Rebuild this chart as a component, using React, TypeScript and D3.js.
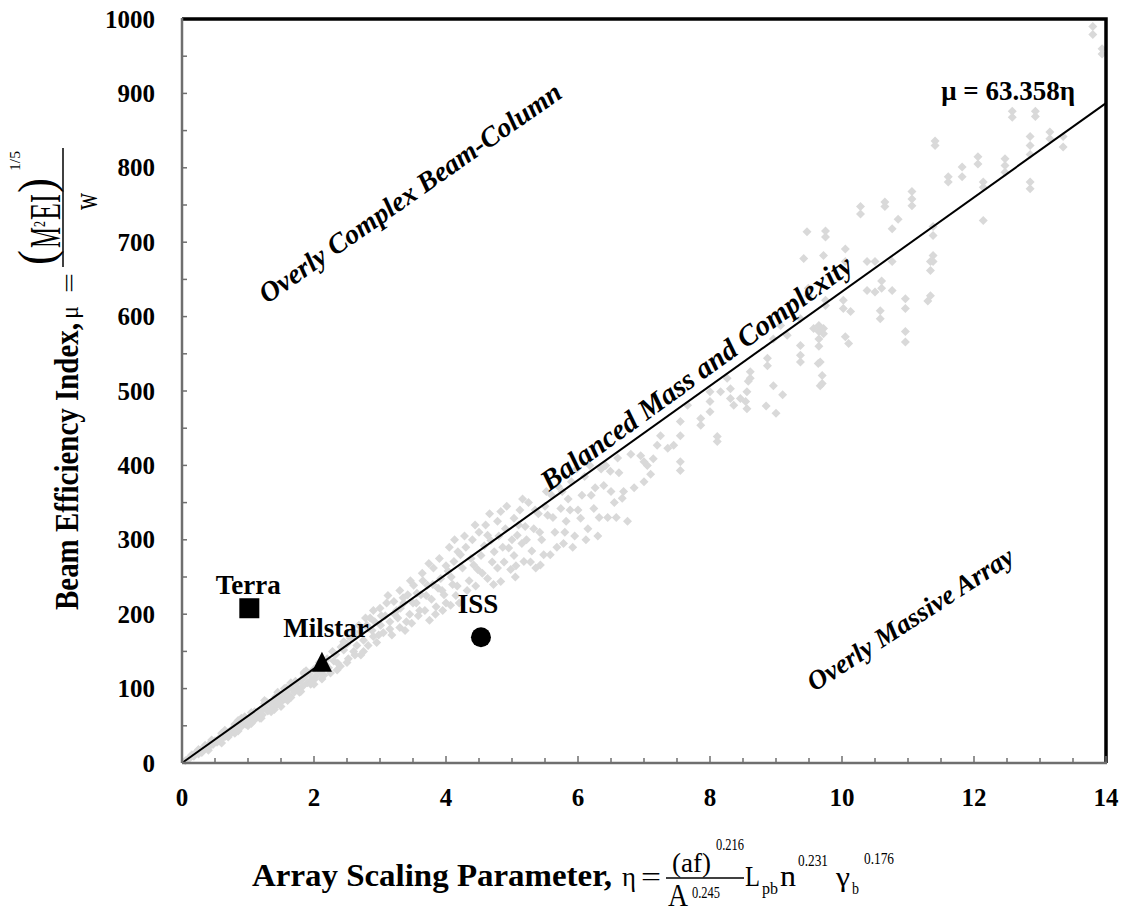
import React, { useEffect, useRef } from 'react';
import * as d3 from 'd3';

// axis ticks
const xTickValues = [0, 2, 4, 6, 8, 10, 12, 14];
const yTickValues = [0, 100, 200, 300, 400, 500, 600, 700, 800, 900, 1000];

// fitted line mu = 63.358 eta
const fitSlope = 63.358;
const fitEtaRange = [0, 14];

// reference spacecraft
const spacecraftNames = ['Terra', 'Milstar', 'ISS'];
const spacecraftEta = [1.02, 2.12, 4.53];
const spacecraftMu = [208, 136, 169];

// region annotations (centre in data units)
const regionLabels = ['Overly Complex Beam-Column', 'Balanced Mass and Complexity', 'Overly Massive Array'];
const regionEta = [3.45, 7.79, 11.03];
const regionMu = [767, 525, 194];

// design study points [eta, mu]
const designPoints: [number, number][] = [
    [0.05, 3], [0.1, 5], [0.12, 8], [0.15, 11], [0.18, 9], [0.2, 13], [0.25, 12], [0.25, 18], [0.28, 17], [0.3, 14],
    [0.33, 18], [0.35, 24], [0.36, 22], [0.4, 21], [0.4, 17], [0.42, 26], [0.45, 29], [0.45, 31], [0.47, 25], [0.5, 30],
    [0.53, 28], [0.55, 30], [0.56, 33], [0.6, 32], [0.6, 40], [0.6, 27], [0.62, 37], [0.65, 42], [0.65, 44], [0.66, 36],
    [0.7, 41], [0.7, 35], [0.72, 38], [0.75, 45], [0.78, 42], [0.8, 52], [0.8, 40], [0.82, 48], [0.85, 46], [0.85, 43],
    [0.85, 57], [0.88, 53], [0.9, 49], [0.9, 60], [0.94, 56], [0.95, 62], [0.97, 52], [1.0, 59], [1.0, 50], [1.02, 55],
    [1.05, 53], [1.05, 68], [1.06, 63], [1.1, 58], [1.1, 69], [1.12, 66], [1.15, 62], [1.18, 60], [1.2, 71], [1.2, 60],
    [1.22, 65], [1.25, 80], [1.25, 84], [1.26, 74], [1.28, 82], [1.3, 70], [1.33, 80], [1.35, 69], [1.36, 73], [1.4, 84],
    [1.4, 72], [1.42, 89], [1.43, 78], [1.45, 95], [1.47, 88], [1.5, 82], [1.5, 76], [1.53, 93], [1.55, 100], [1.56, 86],
    [1.58, 101], [1.6, 98], [1.6, 84], [1.62, 90], [1.65, 88], [1.65, 108], [1.66, 101], [1.7, 95], [1.72, 110], [1.73, 107],
    [1.76, 99], [1.78, 95], [1.8, 111], [1.8, 96], [1.83, 103], [1.85, 120], [1.85, 122], [1.86, 116], [1.88, 124], [1.9, 108],
    [1.93, 120], [1.95, 106], [1.96, 112], [2.0, 126], [2.0, 112], [2.0, 106], [2.03, 117], [2.05, 130], [2.08, 135], [2.1, 122],
    [2.12, 113], [2.15, 118], [2.18, 132], [2.2, 140], [2.22, 128], [2.25, 121], [2.28, 150], [2.3, 137], [2.33, 146], [2.35, 125],
    [2.36, 134], [2.4, 130], [2.41, 156], [2.45, 152], [2.45, 163], [2.5, 160], [2.5, 135], [2.52, 140], [2.55, 168], [2.58, 178],
    [2.6, 172], [2.6, 150], [2.62, 145], [2.65, 158], [2.68, 185], [2.7, 176], [2.71, 145], [2.75, 165], [2.75, 150], [2.78, 195],
    [2.8, 185], [2.82, 158], [2.82, 181], [2.85, 195], [2.88, 178], [2.9, 170], [2.9, 205], [2.92, 190], [2.95, 162], [2.98, 172],
    [3.0, 208], [3.01, 185], [3.02, 198], [3.05, 175], [3.08, 198], [3.1, 215], [3.12, 225], [3.15, 190], [3.15, 180], [3.18, 172],
    [3.21, 217], [3.22, 200], [3.25, 205], [3.27, 195], [3.3, 182], [3.3, 232], [3.31, 208], [3.35, 222], [3.36, 215], [3.38, 178],
    [3.4, 190], [3.42, 226], [3.45, 200], [3.46, 245], [3.48, 188], [3.5, 215], [3.51, 239], [3.55, 215], [3.56, 228], [3.58, 198],
    [3.6, 205], [3.62, 226], [3.64, 255], [3.65, 245], [3.68, 205], [3.7, 225], [3.72, 239], [3.74, 268], [3.75, 192], [3.78, 220],
    [3.8, 240], [3.81, 262], [3.84, 200], [3.85, 210], [3.88, 235], [3.9, 275], [3.92, 248], [3.94, 232], [3.95, 205], [3.97, 226],
    [4.0, 265], [4.0, 215], [4.03, 258], [4.05, 290], [4.07, 212], [4.08, 250], [4.1, 240], [4.12, 271], [4.13, 300], [4.15, 225],
    [4.17, 238], [4.18, 284], [4.2, 215], [4.22, 280], [4.25, 262], [4.28, 305], [4.3, 290], [4.32, 232], [4.35, 245], [4.38, 275],
    [4.4, 300], [4.42, 266], [4.44, 320], [4.45, 238], [4.48, 260], [4.5, 310], [4.53, 279], [4.55, 255], [4.58, 292], [4.6, 320],
    [4.63, 248], [4.63, 306], [4.66, 335], [4.68, 299], [4.7, 270], [4.72, 240], [4.73, 284], [4.78, 325], [4.78, 262], [4.8, 305],
    [4.83, 338], [4.83, 244], [4.86, 290], [4.88, 270], [4.9, 315], [4.92, 345], [4.95, 289], [4.98, 260], [5.0, 300], [5.03, 329],
    [5.03, 279], [5.05, 250], [5.06, 265], [5.08, 306], [5.1, 320], [5.12, 340], [5.15, 295], [5.16, 355], [5.18, 271], [5.2, 318],
    [5.22, 300], [5.25, 350], [5.28, 270], [5.3, 285], [5.33, 315], [5.35, 340], [5.36, 262], [5.4, 335], [5.42, 310], [5.43, 266],
    [5.45, 300], [5.48, 280], [5.5, 345], [5.52, 365], [5.54, 333], [5.58, 280], [5.6, 360], [5.62, 330], [5.65, 310], [5.68, 290],
    [5.7, 372], [5.74, 342], [5.76, 365], [5.78, 295], [5.8, 310], [5.82, 325], [5.85, 355], [5.88, 340], [5.9, 378], [5.92, 290],
    [5.95, 305], [5.98, 395], [6.0, 340], [6.04, 329], [6.06, 360], [6.1, 385], [6.12, 300], [6.15, 315], [6.18, 400], [6.2, 360],
    [6.24, 342], [6.26, 370], [6.3, 305], [6.32, 330], [6.35, 395], [6.39, 373], [6.42, 400], [6.45, 330], [6.49, 392], [6.5, 365],
    [6.55, 350], [6.58, 330], [6.6, 410], [6.62, 390], [6.67, 356], [6.69, 365], [6.75, 325], [6.8, 415], [6.85, 370], [6.95, 413],
    [7.0, 405], [7.0, 378], [7.05, 400], [7.1, 388], [7.14, 409], [7.2, 427], [7.25, 440], [7.36, 423], [7.45, 427], [7.55, 459],
    [7.55, 440], [7.55, 405], [7.55, 393], [7.66, 481], [7.86, 463], [7.86, 454], [8.0, 499], [8.0, 486], [8.0, 472], [8.11, 439],
    [8.11, 432], [8.16, 499], [8.26, 517], [8.31, 503], [8.31, 490], [8.36, 481], [8.46, 490], [8.54, 486], [8.56, 499], [8.56, 476],
    [8.58, 513], [8.61, 526], [8.61, 517], [8.85, 480], [8.87, 544], [8.87, 534], [8.96, 507], [8.96, 570], [9.0, 470], [9.07, 588],
    [9.1, 495], [9.17, 575], [9.37, 561], [9.37, 548], [9.37, 539], [9.37, 597], [9.42, 678], [9.47, 714], [9.49, 638], [9.49, 628],
    [9.57, 584], [9.64, 537], [9.65, 588], [9.65, 580], [9.65, 570], [9.65, 560], [9.67, 539], [9.67, 507], [9.7, 521], [9.7, 510],
    [9.72, 682], [9.72, 584], [9.72, 577], [9.75, 715], [9.75, 707], [9.75, 622], [9.75, 615], [10.02, 622], [10.02, 611], [10.05, 691],
    [10.05, 674], [10.05, 573], [10.1, 564], [10.13, 607], [10.28, 748], [10.28, 738], [10.38, 674], [10.38, 635], [10.5, 674], [10.5, 633],
    [10.58, 608], [10.58, 597], [10.6, 648], [10.6, 638], [10.65, 754], [10.65, 748], [10.76, 718], [10.76, 674], [10.76, 635], [10.85, 731],
    [10.96, 624], [10.96, 611], [10.96, 580], [10.96, 566], [11.06, 768], [11.06, 758], [11.06, 749], [11.3, 621], [11.34, 674], [11.34, 662],
    [11.34, 628], [11.38, 721], [11.38, 709], [11.38, 682], [11.38, 674], [11.41, 836], [11.41, 830], [11.61, 788], [11.61, 781], [11.82, 801],
    [11.82, 788], [12.06, 815], [12.06, 805], [12.14, 781], [12.14, 774], [12.14, 729], [12.47, 812], [12.47, 803], [12.47, 794], [12.58, 876],
    [12.58, 868], [12.85, 842], [12.85, 830], [12.85, 818], [12.85, 781], [12.85, 772], [12.93, 876], [12.93, 869], [13.15, 848], [13.15, 839],
    [13.35, 842], [13.35, 828], [13.8, 990], [13.8, 979], [13.94, 960], [13.94, 953],
];

const serif = '"Liberation Serif", "Times New Roman", serif';

const App: React.FC = () => {
    const svgRef = useRef<SVGSVGElement>(null);
    const width = 1131;
    const height = 916;

    useEffect(() => {
        if (!svgRef.current) return;
        const svg = d3.select(svgRef.current);
        svg.selectAll('*').remove();

        const x = d3.scaleLinear().domain([0, 14]).range([182, 1106]);
        const y = d3.scaleLinear().domain([0, 1000]).range([763, 19]);

        // scatter cloud
        const dm = 4.5;
        svg.append('g')
            .selectAll('path')
            .data(designPoints)
            .join('path')
            .attr('d', d => {
                const cx = x(d[0]);
                const cy = y(d[1]);
                return `M${cx},${cy - dm}L${cx + dm},${cy}L${cx},${cy + dm}L${cx - dm},${cy}Z`;
            })
            .attr('fill', '#d9d9d9');

        // fit line
        svg.append('line')
            .attr('x1', x(fitEtaRange[0]))
            .attr('y1', y(fitSlope * fitEtaRange[0]))
            .attr('x2', x(fitEtaRange[1]))
            .attr('y2', y(fitSlope * fitEtaRange[1]))
            .attr('stroke', '#000')
            .attr('stroke-width', 2);

        // frame (top/right black)
        svg.append('path')
            .attr('d', `M${x(0)},${y(1000)}L${x(14)},${y(1000)}L${x(14)},${y(0)}`)
            .attr('fill', 'none')
            .attr('stroke', '#000')
            .attr('stroke-width', 3.5);

        // axes (grey)
        const axisColor = '#6f6f6f';
        svg.append('line')
            .attr('x1', x(0)).attr('x2', x(14) + 1)
            .attr('y1', y(0)).attr('y2', y(0))
            .attr('stroke', axisColor).attr('stroke-width', 2.5);
        svg.append('line')
            .attr('x1', x(0)).attr('x2', x(0))
            .attr('y1', y(0)).attr('y2', y(1000) - 1)
            .attr('stroke', axisColor).attr('stroke-width', 2.5);

        const xMinor = d3.range(0.5, 14.01, 0.5);
        svg.append('g')
            .selectAll('line')
            .data(xMinor)
            .join('line')
            .attr('x1', d => x(d)).attr('x2', d => x(d))
            .attr('y1', y(0))
            .attr('y2', d => y(0) - (d % 2 === 0 ? 7 : 5))
            .attr('stroke', axisColor).attr('stroke-width', 1.5);

        const yMinor = d3.range(50, 1000, 50);
        svg.append('g')
            .selectAll('line')
            .data(yMinor)
            .join('line')
            .attr('x1', x(0)).attr('x2', x(0) + 5)
            .attr('y1', d => y(d)).attr('y2', d => y(d))
            .attr('stroke', axisColor).attr('stroke-width', 1.5);

        // tick labels
        svg.append('g')
            .selectAll('text')
            .data(yTickValues)
            .join('text')
            .attr('x', 155)
            .attr('y', d => y(d) + 8.5)
            .attr('text-anchor', 'end')
            .attr('font-family', serif)
            .attr('font-weight', 'bold')
            .attr('font-size', 25)
            .text(d => d);

        svg.append('g')
            .selectAll('text')
            .data(xTickValues)
            .join('text')
            .attr('x', d => x(d))
            .attr('y', 806)
            .attr('text-anchor', 'middle')
            .attr('font-family', serif)
            .attr('font-weight', 'bold')
            .attr('font-size', 25)
            .text(d => d);

        // spacecraft markers
        const [tx, ty] = [x(spacecraftEta[0]), y(spacecraftMu[0])];
        svg.append('rect')
            .attr('x', tx - 10).attr('y', ty - 10)
            .attr('width', 20).attr('height', 20)
            .attr('fill', '#000');
        const [mx, my] = [x(spacecraftEta[1]), y(spacecraftMu[1])];
        svg.append('path')
            .attr('d', `M${mx},${my - 10}L${mx + 10},${my + 10}L${mx - 10},${my + 10}Z`)
            .attr('fill', '#000');
        svg.append('circle')
            .attr('cx', x(spacecraftEta[2])).attr('cy', y(spacecraftMu[2]))
            .attr('r', 10)
            .attr('fill', '#000');

        const labelOffsets = [[-1, -14], [4, -25], [-3, -24]];
        spacecraftNames.forEach((name, i) => {
            svg.append('text')
                .attr('x', x(spacecraftEta[i]) + labelOffsets[i][0])
                .attr('y', y(spacecraftMu[i]) + labelOffsets[i][1])
                .attr('text-anchor', 'middle')
                .attr('font-family', serif)
                .attr('font-weight', 'bold')
                .attr('font-size', 27)
                .text(name);
        });

        // fit equation
        svg.append('text')
            .attr('x', x(14) - 31)
            .attr('y', y(fitSlope * 14) - 3)
            .attr('text-anchor', 'end')
            .attr('font-family', serif)
            .attr('font-weight', 'bold')
            .attr('font-size', 27)
            .text('\u03bc = 63.358\u03b7');

        // region annotations
        const regionAngles = [-35, -36, -33];
        const regionSizes = [28, 29, 27];
        regionLabels.forEach((label, i) => {
            svg.append('text')
                .attr('transform', `translate(${x(regionEta[i])},${y(regionMu[i])}) rotate(${regionAngles[i]})`)
                .attr('text-anchor', 'middle')
                .attr('dy', '0.35em')
                .attr('font-family', serif)
                .attr('font-weight', 'bold')
                .attr('font-style', 'italic')
                .attr('font-size', regionSizes[i])
                .text(label);
        });

        // y axis title (rotated)
        const yt = svg.append('g').attr('transform', 'translate(78,610) rotate(-90)');
        const put = (g: any, txt: string, px: number, py: number, size: number, len: number, bold = false) => {
            g.append('text')
                .attr('x', px).attr('y', py)
                .attr('font-family', serif)
                .attr('font-weight', bold ? 'bold' : 'normal')
                .attr('font-size', size)
                .attr('textLength', len)
                .attr('lengthAdjust', 'spacingAndGlyphs')
                .text(txt);
        };
        put(yt, 'Beam Efficiency Index,', 0, 0, 33, 287, true);
        put(yt, '\u03bc', 291, 0, 26, 13);
        put(yt, '=', 317, 0, 26, 20);
        put(yt, '(', 345, -25, 50, 15);
        put(yt, 'M', 362, -18, 44, 21);
        put(yt, '2', 383, -33, 16, 6);
        put(yt, 'E', 390, -18, 44, 17);
        put(yt, 'I', 407, -18, 44, 9);
        put(yt, ')', 417, -25, 50, 15);
        put(yt, '1/5', 439, -58, 14, 20);
        put(yt, 'w', 400, 19, 34, 17);
        yt.append('line')
            .attr('x1', 343).attr('x2', 462)
            .attr('y1', -15).attr('y2', -15)
            .attr('stroke', '#000').attr('stroke-width', 1.5);

        // x axis title
        const xt = svg.append('g');
        put(xt, 'Array Scaling Parameter,', 252, 886, 31, 360, true);
        put(xt, '\u03b7', 622, 886, 28, 14);
        put(xt, '=', 641, 886, 28, 20);
        put(xt, '(af)', 672, 872, 28, 39);
        put(xt, '0.216', 716, 850, 17, 28);
        put(xt, 'A', 668, 906, 32, 20);
        put(xt, '0.245', 692, 898, 17, 28);
        put(xt, 'L', 745, 886, 30, 15);
        put(xt, 'pb', 762, 894, 17, 16);
        put(xt, 'n', 780, 886, 30, 16);
        put(xt, '0.231', 798, 866, 17, 30);
        put(xt, '\u03b3', 836, 886, 28, 14);
        put(xt, 'b', 852, 894, 17, 7);
        put(xt, '0.176', 864, 864, 17, 30);
        xt.append('line')
            .attr('x1', 666).attr('x2', 744)
            .attr('y1', 878).attr('y2', 878)
            .attr('stroke', '#000').attr('stroke-width', 1.5);
    }, []);

    return (
        <svg ref={svgRef} width={width} height={height}
            style={{ position: 'absolute', left: 0, top: 0, background: '#fff' }} />
    );
};

export default App;
